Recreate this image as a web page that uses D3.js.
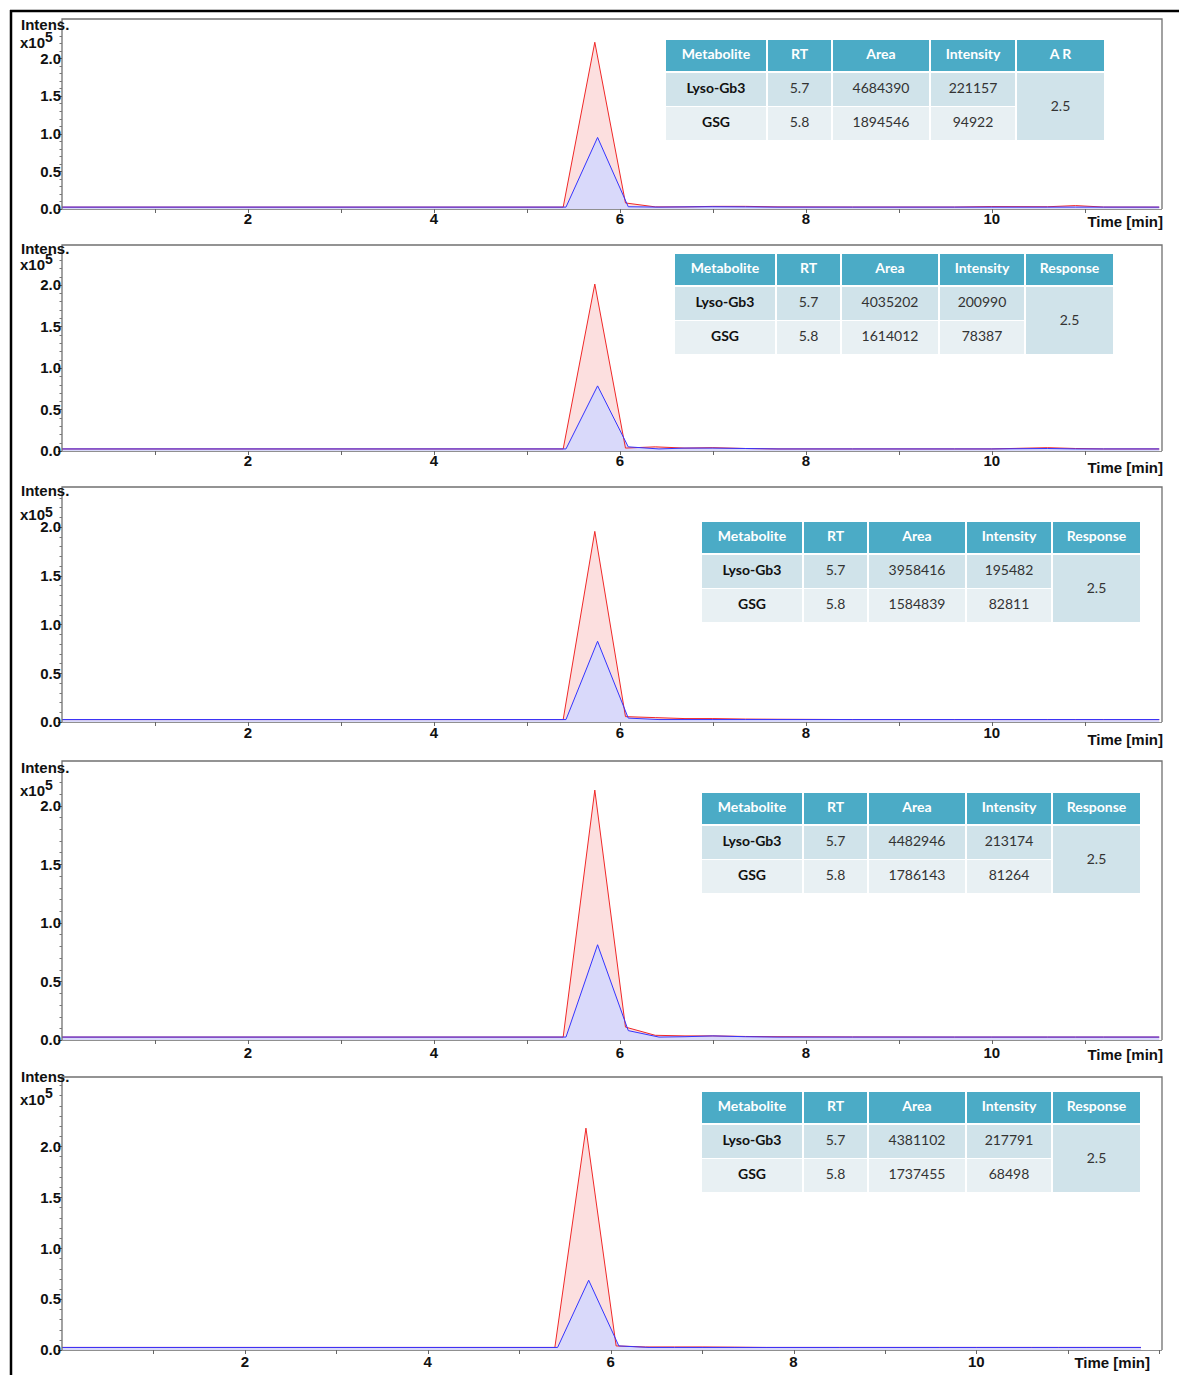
<!DOCTYPE html>
<html>
<head>
<meta charset="utf-8">
<script src="https://cdn.jsdelivr.net/npm/d3@7"></script>
<style>
  html, body { margin: 0; padding: 0; background: #fff; }
  svg { display: block; }
</style>
</head>
<body>
<svg id="chart" width="1179" height="1375"></svg>
<script>
// Retention-time grid (min) for each extracted-ion trace
const timeRed  = [0, 5.39, 5.73, 6.06, 6.38, 6.7, 7.0, 7.35, 7.7, 8.5, 9.6, 10.0, 10.6, 10.9, 11.2, 11.8];
const timeBlue = [0, 5.42, 5.76, 6.09, 6.42, 6.7, 7.0, 7.35, 7.7, 8.5, 9.6, 10.0, 10.6, 10.9, 11.2, 11.8];

// Lyso-Gb3 traces (counts), one per run
const redTraces = [
  [2500, 2500, 221157, 8000, 2800, 2800, 3500, 3500, 2800, 2600, 2600, 3200, 3000, 4500, 2600, 2500],
  [2500, 2500, 200990, 3500, 5000, 3500, 4000, 3000, 2500, 2500, 2500, 2500, 4000, 3000, 2500, 2500],
  [2500, 2500, 195482, 5500, 4500, 3500, 3500, 3000, 2800, 2500, 2500, 2500, 2500, 2500, 2500, 2500],
  [2500, 2500, 213174, 11000, 4000, 3500, 3500, 3000, 2800, 2600, 2500, 2500, 2500, 2500, 2500, 2500],
  [2500, 2500, 217791, 4000, 3000, 3000, 3000, 2800, 2500, 2500, 2500, 2500, 2500, 2500, 2500, 2500]
];
// GSG traces (counts), one per run
const blueTraces = [
  [2500, 2500, 94922, 3000, 2500, 2800, 3000, 2800, 2500, 2500, 2500, 2500, 2500, 2500, 2500, 2500],
  [2500, 2500, 78387, 5000, 2500, 3500, 3500, 3000, 2500, 2500, 2500, 2500, 3000, 2500, 2500, 2500],
  [2500, 2500, 82811, 4000, 2500, 2500, 2500, 2500, 2500, 2500, 2500, 2500, 2500, 2500, 2500, 2500],
  [2500, 2500, 81264, 8000, 2500, 2800, 3500, 2800, 2500, 2500, 2500, 2500, 2500, 2500, 2500, 2500],
  [2500, 2500, 68498, 4000, 2500, 2500, 2500, 2500, 2500, 2500, 2500, 2500, 2500, 2500, 2500, 2500]
];

// Summary tables
const tableHeaders = ["Metabolite", "RT", "Area", "Intensity"];
const lastHeader = ["A R", "Response", "Response", "Response", "Response"];
const metabolites = ["Lyso-Gb3", "GSG"];
const retentionTimes = ["5.7", "5.8"];
const lysoArea = [4684390, 4035202, 3958416, 4482946, 4381102];
const gsgArea = [1894546, 1614012, 1584839, 1786143, 1737455];
const lysoIntensity = [221157, 200990, 195482, 213174, 217791];
const gsgIntensity = [94922, 78387, 82811, 81264, 68498];
const responseValue = ["2.5", "2.5", "2.5", "2.5", "2.5"];

// Axis ticks
const yMajorTicks = [0, 0.5e5, 1.0e5, 1.5e5, 2.0e5];
const xLabelTicks = [2, 4, 6, 8, 10];

// Panel layout
const layout = [
  { top: 19,   zero: 209,  left: 62, right: 1162, yMax: 2.52e5, xMax: 11.83, tx: 666, ty: 40,   intensY: 30,   x10Y: 48,   supDy: -6, timeX: 1163, timeY: 227,  tickDy: 15 },
  { top: 245,  zero: 451,  left: 62, right: 1162, yMax: 2.48e5, xMax: 11.83, tx: 675, ty: 254,  intensY: 254,  x10Y: 270,  supDy: -6, timeX: 1163, timeY: 473,  tickDy: 15 },
  { top: 487,  zero: 722,  left: 62, right: 1162, yMax: 2.41e5, xMax: 11.83, tx: 702, ty: 522,  intensY: 496,  x10Y: 520,  supDy: -3, timeX: 1163, timeY: 745,  tickDy: 16 },
  { top: 761,  zero: 1040, left: 62, right: 1162, yMax: 2.38e5, xMax: 11.83, tx: 702, ty: 793,  intensY: 773,  x10Y: 796,  supDy: -6, timeX: 1163, timeY: 1060, tickDy: 18 },
  { top: 1077, zero: 1350, left: 62, right: 1162, yMax: 2.68e5, xMax: 12.03, tx: 702, ty: 1092, intensY: 1082, x10Y: 1105, supDy: -7, timeX: 1150, timeY: 1368, tickDy: 17 }
];

const colWidths = [102, 65, 98, 86, 89];
const gap = 2;
const headerH = 31, rowH = 33;

const svg = d3.select("#chart");
const axisFont = "'Liberation Sans', Arial, sans-serif";
const tableFont = "Lato, 'Open Sans', sans-serif";

// outer frame
svg.append("line").attr("x1", 11).attr("x2", 11).attr("y1", 10).attr("y2", 1375)
  .attr("stroke", "#000").attr("stroke-width", 2.5);
svg.append("line").attr("x1", 10).attr("x2", 1179).attr("y1", 11).attr("y2", 11)
  .attr("stroke", "#000").attr("stroke-width", 2.5);

layout.forEach((L, i) => {
  const g = svg.append("g");
  const x = d3.scaleLinear().domain([0, L.xMax]).range([L.left, L.right]);
  const y = d3.scaleLinear().domain([0, L.yMax]).range([L.zero, L.top]);

  const redData = timeRed.map((t, k) => [t, redTraces[i][k]]);
  const blueData = timeBlue.map((t, k) => [t, blueTraces[i][k]]);

  const area = d3.area().x(d => x(d[0])).y0(y(0)).y1(d => y(d[1]));
  const line = d3.line().x(d => x(d[0])).y(d => y(d[1]));

  g.append("path").datum(redData).attr("d", area).attr("fill", "#fcdfdf");
  g.append("path").datum(blueData).attr("d", area).attr("fill", "#d9d9fa");
  g.append("path").datum(redData).attr("d", line).attr("fill", "none")
    .attr("stroke", "#f02828").attr("stroke-width", 1);
  g.append("path").datum(blueData).attr("d", line).attr("fill", "none")
    .attr("stroke", "#3434ff").attr("stroke-width", 1);

  // plot frame (left, top, right) and time axis
  g.append("path")
    .attr("d", `M${L.left},${L.zero}V${L.top}H${L.right}V${L.zero}`)
    .attr("fill", "none").attr("stroke", "#707070").attr("stroke-width", 1.3);
  g.append("line").attr("x1", L.left).attr("x2", L.right)
    .attr("y1", L.zero + 0.5).attr("y2", L.zero + 0.5)
    .attr("stroke", "#909090").attr("stroke-width", 1);

  // y ticks: minor every 0.1e5, major every 0.5e5
  const minor = d3.range(0, L.yMax, 0.1e5);
  g.selectAll(".ymin").data(minor).join("line")
    .attr("x1", L.left - 2.5).attr("x2", L.left)
    .attr("y1", d => Math.round(y(d)) + 0.5).attr("y2", d => Math.round(y(d)) + 0.5)
    .attr("stroke", "#777").attr("stroke-width", 1);
  g.selectAll(".ymaj").data(yMajorTicks).join("line")
    .attr("x1", L.left - 4).attr("x2", L.left)
    .attr("y1", d => Math.round(y(d)) + 0.5).attr("y2", d => Math.round(y(d)) + 0.5)
    .attr("stroke", "#555").attr("stroke-width", 1);
  g.selectAll(".ylab").data(yMajorTicks).join("text")
    .attr("x", L.left - 1).attr("y", d => y(d)).attr("dy", "0.36em")
    .attr("text-anchor", "end")
    .attr("font-family", axisFont).attr("font-weight", "bold").attr("font-size", 15)
    .attr("fill", "#111")
    .text(d => d3.format(".1f")(d / 1e5));

  // x ticks every minute, labels on even minutes
  const xt = d3.range(1, Math.floor(L.xMax) + 1);
  g.selectAll(".xt").data(xt).join("line")
    .attr("x1", d => Math.round(x(d)) + 0.5).attr("x2", d => Math.round(x(d)) + 0.5)
    .attr("y1", L.zero).attr("y2", L.zero + 4)
    .attr("stroke", "#666").attr("stroke-width", 1);
  g.selectAll(".xl").data(xLabelTicks).join("text")
    .attr("x", d => x(d)).attr("y", L.zero + L.tickDy)
    .attr("text-anchor", "middle")
    .attr("font-family", axisFont).attr("font-weight", "bold").attr("font-size", 15)
    .attr("fill", "#111")
    .text(d => d);

  // axis titles
  g.append("text").attr("x", 21).attr("y", L.intensY)
    .attr("font-family", axisFont).attr("font-weight", "bold").attr("font-size", 15)
    .attr("fill", "#111").text("Intens.");
  const xt10 = g.append("text").attr("x", 20).attr("y", L.x10Y)
    .attr("font-family", axisFont).attr("font-weight", "bold").attr("font-size", 15)
    .attr("fill", "#111");
  xt10.append("tspan").text("x10");
  xt10.append("tspan").attr("dy", L.supDy).attr("font-size", 14).text("5");
  g.append("text").attr("x", L.timeX).attr("y", L.timeY)
    .attr("text-anchor", "end")
    .attr("font-family", axisFont).attr("font-weight", "bold").attr("font-size", 15)
    .attr("fill", "#111").text("Time [min]");

  // summary table
  const t = g.append("g").attr("transform", `translate(${L.tx},${L.ty})`);
  const colX = [];
  let acc = 0;
  colWidths.forEach(w => { colX.push(acc); acc += w; });
  const headers = tableHeaders.concat([lastHeader[i]]);
  headers.forEach((h, c) => {
    t.append("rect").attr("x", colX[c]).attr("y", 0)
      .attr("width", colWidths[c] - gap).attr("height", headerH).attr("fill", "#4babc6");
    t.append("text").attr("x", colX[c] + (colWidths[c] - gap) / 2).attr("y", headerH / 2 - 1)
      .attr("dy", "0.35em").attr("text-anchor", "middle")
      .attr("font-family", tableFont).attr("font-weight", "bold").attr("font-size", 14)
      .attr("fill", "#fff").text(h);
  });
  const rows = [
    [metabolites[0], retentionTimes[0], lysoArea[i], lysoIntensity[i]],
    [metabolites[1], retentionTimes[1], gsgArea[i], gsgIntensity[i]]
  ];
  const rowFill = ["#d0e3ea", "#e8f0f3"];
  rows.forEach((r, ri) => {
    const ry = headerH + gap + ri * (rowH + 1);
    r.forEach((v, c) => {
      t.append("rect").attr("x", colX[c]).attr("y", ry)
        .attr("width", colWidths[c] - gap).attr("height", rowH).attr("fill", rowFill[ri]);
      t.append("text").attr("x", colX[c] + (colWidths[c] - gap) / 2).attr("y", ry + rowH / 2 - 1.5)
        .attr("dy", "0.35em").attr("text-anchor", "middle")
        .attr("font-family", tableFont).attr("font-size", 14)
        .attr("font-weight", c === 0 ? "bold" : "normal")
        .attr("fill", c === 0 ? "#111" : "#333").text(v);
    });
  });
  const my = headerH + gap;
  const mh = 2 * rowH + 1;
  t.append("rect").attr("x", colX[4]).attr("y", my)
    .attr("width", colWidths[4] - gap).attr("height", mh).attr("fill", "#d0e3ea");
  t.append("text").attr("x", colX[4] + (colWidths[4] - gap) / 2).attr("y", my + mh / 2)
    .attr("dy", "0.35em").attr("text-anchor", "middle")
    .attr("font-family", tableFont).attr("font-size", 14)
    .attr("fill", "#333").text(responseValue[i]);
});
</script>
</body>
</html>
